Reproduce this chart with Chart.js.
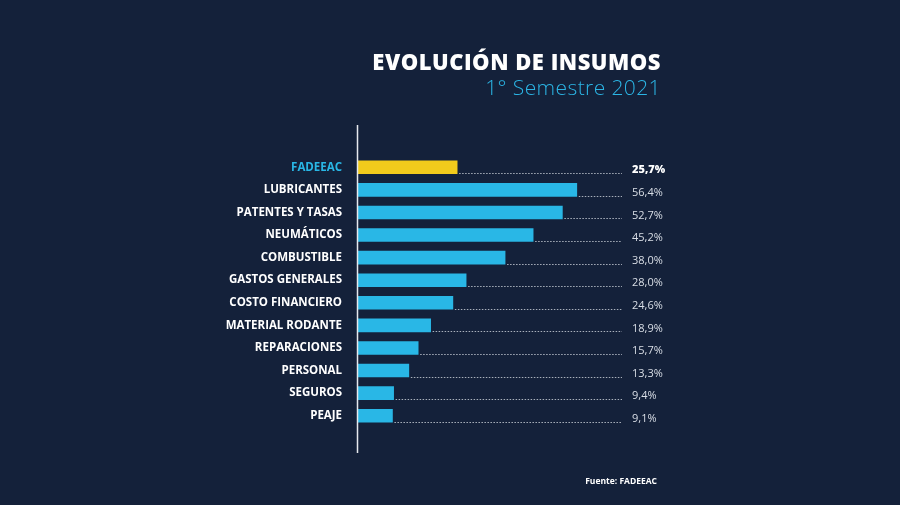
<!DOCTYPE html>
<html><head><meta charset="utf-8">
<script src="https://cdn.jsdelivr.net/npm/chart.js@4"></script>
<style>
html,body{margin:0;padding:0;background:#14213a;}
#wrap{position:relative;width:900px;height:505px;background:#14213a;overflow:hidden;}
canvas{position:absolute;left:0;top:0;}
.t{position:absolute;right:239px;white-space:nowrap;font-family:"Open Sans",sans-serif;}
#title{top:46px;font-size:22px;font-weight:800;color:#ffffff;letter-spacing:0.5px;}
#sub{top:73px;font-size:21px;font-weight:300;color:#2bb5e5;letter-spacing:0.4px;}
#src{top:475px;right:243px;font-size:8.5px;font-weight:700;color:#ffffff;}
</style></head>
<body><div id="wrap">
<canvas id="c" width="900" height="505"></canvas>
<div class="t" id="title">EVOLUCIÓN DE INSUMOS</div>
<div class="t" id="sub">1° Semestre 2021</div>
<div class="t" id="src">Fuente: FADEEAC</div>
</div>
<script>
const categories = ["FADEEAC","LUBRICANTES","PATENTES Y TASAS","NEUMÁTICOS","COMBUSTIBLE","GASTOS GENERALES","COSTO FINANCIERO","MATERIAL RODANTE","REPARACIONES","PERSONAL","SEGUROS","PEAJE"];
const values = [25.7,56.4,52.7,45.2,38.0,28.0,24.6,18.9,15.7,13.3,9.4,9.1];
const valueLabels = ["25,7%","56,4%","52,7%","45,2%","38,0%","28,0%","24,6%","18,9%","15,7%","13,3%","9,4%","9,1%"];
const highlightIndex = 0;

const BLUE = "#29b7e6", YELLOW = "#f2cb1c";

const overlay = {
  id: "overlay",
  afterDatasetsDraw(chart) {
    const ctx = chart.ctx;
    const meta = chart.getDatasetMeta(0);
    const xs = chart.scales.x;
    const lineEnd = xs.right;
    ctx.save();
    meta.data.forEach((bar, i) => {
      const yb = bar.y + bar.height / 2 - 0.5;
      ctx.strokeStyle = "rgba(220,225,232,0.75)";
      ctx.lineWidth = 1;
      ctx.setLineDash([1.5, 1.5]);
      ctx.beginPath();
      ctx.moveTo(bar.x + 2, Math.round(yb) + 0.5);
      ctx.lineTo(lineEnd, Math.round(yb) + 0.5);
      ctx.stroke();
      ctx.setLineDash([]);
      ctx.textAlign = "left";
      ctx.textBaseline = "middle";
      if (i === highlightIndex) {
        ctx.font = "800 11px 'Open Sans'";
        ctx.fillStyle = "#ffffff";
      } else {
        ctx.font = "400 11px 'Open Sans'";
        ctx.fillStyle = "#d9dee6";
      }
      ctx.fillText(valueLabels[i], lineEnd + 10, bar.y + 3);
    });
    const x0 = Math.round(xs.getPixelForValue(0)) + 0.5;
    ctx.strokeStyle = "#e6e9ee";
    ctx.lineWidth = 1.5;
    ctx.beginPath();
    ctx.moveTo(x0, 125);
    ctx.lineTo(x0, 453);
    ctx.stroke();
    ctx.restore();
  }
};

new Chart(document.getElementById("c"), {
  type: "bar",
  data: {
    labels: categories,
    datasets: [{
      data: values,
      backgroundColor: values.map((v, i) => i === highlightIndex ? YELLOW : BLUE),
      borderWidth: 0,
      barThickness: 13,
      borderSkipped: false
    }]
  },
  options: {
    indexAxis: "y",
    responsive: false,
    animation: false,
    devicePixelRatio: 1,
    layout: { padding: { left: 157, right: 278, top: 156, bottom: 78 } },
    plugins: { legend: { display: false }, tooltip: { enabled: false }, title: { display: false } },
    scales: {
      x: { display: false, min: 0, max: 68 },
      y: {
        afterFit(scale) { scale.width = 200; },
        grid: { display: false, drawTicks: false },
        border: { display: false },
        ticks: {
          padding: 15,
          crossAlign: "near",
          color: (c) => c.index === highlightIndex ? BLUE : "#ffffff",
          font: { family: "'Open Sans'", weight: "bold", size: 11.5 }
        }
      }
    }
  },
  plugins: [overlay]
});
</script>
</body></html>
